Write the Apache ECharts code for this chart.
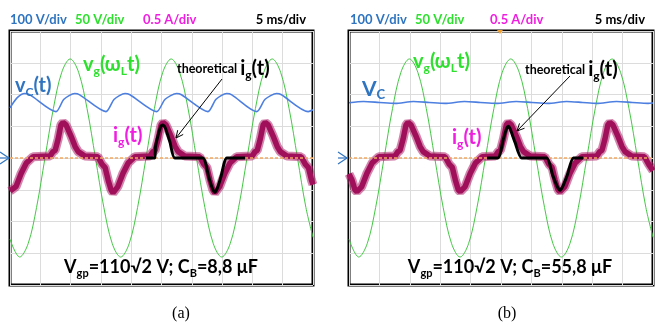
<!DOCTYPE html>
<html>
<head>
<meta charset="utf-8">
<script src="https://cdn.jsdelivr.net/npm/echarts@6/dist/echarts.min.js"></script>
<style>
  html, body { margin: 0; padding: 0; background: #fff; }
  #chart { width: 655px; height: 327px; }
</style>
</head>
<body>
<div id="chart"></div>
<script>
// time in ms (5 ms/div, 10 div), values in volts / amps

// grid voltage vg, same in both shots (50 V/div)
const vgPoints = [
  [0, -128], [1.6, -156], [2.99, -135], [4.38, -78], [5.77, 0], [7.16, 78], [8.54, 135],
  [9.93, 156], [11.32, 135], [12.71, 78], [14.1, 0], [15.49, -78], [16.88, -135],
  [18.27, -156], [19.66, -135], [21.05, -78], [22.44, 0], [23.83, 78], [25.21, 135],
  [26.6, 156], [27.99, 135], [29.38, 78], [30.77, 0], [32.16, -78], [33.55, -135],
  [34.94, -156], [36.33, -135], [37.72, -78], [39.11, 0], [40.5, 78], [41.88, 135],
  [43.27, 156], [44.66, 135], [46.05, 78], [47.44, 0], [48.83, -78], [50, -125]
];

// bus capacitor voltage vC (100 V/div)
const vcA = [
  [0, 158], [1.2, 190], [2.43, 203], [3.3, 199], [7.59, 146], [8.9, 185], [10.68, 203],
  [11.5, 199], [15.84, 146], [17.2, 185], [18.98, 203], [19.8, 199], [24.2, 146],
  [25.6, 185], [27.5, 203], [28.3, 199], [32.67, 146], [34, 185], [35.76, 203],
  [36.6, 199], [40.7, 146], [42.1, 185], [44, 203], [44.8, 199], [49.2, 146], [50, 152]
];
const vcB = [
  [0, 174], [2.4, 178], [5, 175], [7.6, 172], [10.6, 178], [13.2, 175], [15.8, 172],
  [19, 178], [21.6, 175], [24.2, 172], [27.5, 178], [30.1, 175], [32.7, 172],
  [35.8, 178], [38.4, 175], [40.7, 172], [44, 178], [46.6, 175], [49.2, 172], [50, 173]
];

// measured grid current ig (0.5 A/div)
const igA = [
  [0, -0.52], [0.2, -0.55], [1.0, -0.45], [1.85, -0.24], [2.7, -0.08], [3.8, 0.02],
  [6.6, 0.03], [7.1, 0.1], [7.45, 0.12], [7.95, 0.3], [8.4, 0.52], [8.75, 0.56], [9.25, 0.52],
  [10.05, 0.35], [10.75, 0.18], [11.25, 0.1], [12.35, 0.03],
  [14.5, 0.02], [15.2, -0.1], [15.7, -0.15], [16.2, -0.35], [16.67, -0.5], [17.0, -0.55],
  [17.8, -0.45], [18.65, -0.24], [19.5, -0.08], [20.6, 0.02],
  [23.1, 0.03], [23.6, 0.1], [23.95, 0.12], [24.45, 0.3], [24.92, 0.52], [25.25, 0.56],
  [25.75, 0.52], [26.55, 0.35], [27.25, 0.18], [27.75, 0.1], [28.85, 0.03],
  [31.3, 0.02], [32.0, -0.1], [32.5, -0.15], [33.0, -0.35], [33.47, -0.5], [33.8, -0.55],
  [34.6, -0.45], [35.45, -0.24], [36.3, -0.08], [37.4, 0.02],
  [39.95, 0.03], [40.45, 0.1], [40.8, 0.12], [41.3, 0.3], [41.77, 0.52], [42.1, 0.56],
  [42.6, 0.52], [43.4, 0.35], [44.1, 0.18], [44.6, 0.1], [45.7, 0.03],
  [48.05, 0.02], [48.75, -0.1], [49.25, -0.15], [49.75, -0.35], [50, -0.42]
];
const igB = [
  [0, -0.25], [0.5, -0.35], [0.97, -0.5], [1.3, -0.53], [2.1, -0.45], [2.95, -0.24],
  [3.8, -0.08], [4.9, 0.02],
  [7.55, 0.03], [8.05, 0.1], [8.4, 0.12], [8.9, 0.3], [9.37, 0.52], [9.7, 0.56], [10.2, 0.52],
  [11.0, 0.35], [11.7, 0.18], [12.2, 0.1], [13.3, 0.03],
  [15.8, 0.02], [16.5, -0.1], [17.0, -0.15], [17.5, -0.35], [17.97, -0.5], [18.3, -0.53],
  [19.1, -0.45], [19.95, -0.24], [20.8, -0.08], [21.9, 0.02],
  [24.05, 0.03], [24.55, 0.1], [24.9, 0.12], [25.4, 0.3], [25.87, 0.52], [26.2, 0.56],
  [26.7, 0.52], [27.5, 0.35], [28.2, 0.18], [28.7, 0.1], [29.8, 0.03],
  [32.2, 0.02], [32.9, -0.1], [33.4, -0.15], [33.9, -0.35], [34.37, -0.5], [34.7, -0.53],
  [35.5, -0.45], [36.35, -0.24], [37.2, -0.08], [38.3, 0.02],
  [40.75, 0.03], [41.25, 0.1], [41.6, 0.12], [42.1, 0.3], [42.57, 0.52], [42.9, 0.56],
  [43.4, 0.52], [44.2, 0.35], [44.9, 0.18], [45.4, 0.1], [46.5, 0.03],
  [48.6, 0.02], [49.3, -0.1], [50, -0.2]
];

// theoretical ig over one period
const igTheoryA = [
  [22.4, 0], [23.9, 0], [24.0, 0.17], [24.5, 0.38], [24.9, 0.5], [25.25, 0.52], [25.6, 0.48],
  [26.4, 0.25], [27.2, 0], [31.8, 0], [32.8, -0.3], [33.4, -0.48], [33.8, -0.54],
  [34.2, -0.48], [34.8, -0.3], [35.8, 0], [38.8, 0]
];
const igTheoryB = [
  [22.7, 0], [24.5, 0], [25.4, 0.3], [25.9, 0.46], [26.2, 0.5], [26.5, 0.46], [27.3, 0.25],
  [28.4, 0], [32.5, 0], [33.5, -0.27], [34.3, -0.46], [34.7, -0.51], [35.1, -0.46],
  [35.9, -0.27], [36.9, 0], [38.5, 0]
];

const zeroLine = [[0, 0], [50, 0]];
const scaleLabels = ['100 V/div', '50 V/div', '0.5 A/div', '5 ms/div'];
const capValues = ['8,8', '55,8'];
const panelNames = ['(a)', '(b)'];

const FONT = 'Lato, "Open Sans", sans-serif';
const BLUE_TXT = '#2f74c0';
const GREEN_TXT = '#2ee02e';
const MAG_TXT = '#f01ee0';

const chart = echarts.init(document.getElementById('chart'));

const grids = [
  { left: 10, top: 31, width: 303, height: 254 },
  { left: 349, top: 31, width: 304, height: 254 }
];

const xAxes = [], yAxes = [], series = [];
grids.forEach((g, i) => {
  g.show = true;
  g.borderColor = '#000';
  g.borderWidth = 3;
  g.containLabel = false;
  xAxes.push({
    gridIndex: i, type: 'value', min: 0, max: 50, interval: 5,
    axisLine: { show: false }, axisTick: { show: false }, axisLabel: { show: false },
    splitLine: { show: true, lineStyle: { color: '#dcdcdc', width: 1 } }
  });
  // vC axis (shows the horizontal grid), vg axis, ig axis
  yAxes.push({
    gridIndex: i, type: 'value', min: -400, max: 400, interval: 100,
    axisLine: { show: false }, axisTick: { show: false }, axisLabel: { show: false },
    splitLine: { show: true, lineStyle: { color: '#dcdcdc', width: 1 } }
  });
  yAxes.push({ gridIndex: i, type: 'value', min: -200, max: 200, show: false });
  yAxes.push({ gridIndex: i, type: 'value', min: -2, max: 2, show: false });
});

function line(data, xi, yi, color, width, extra) {
  return Object.assign({
    type: 'line', xAxisIndex: xi, yAxisIndex: yi, data: data,
    symbol: 'none', silent: true, animation: false,
    lineStyle: { color: color, width: width }
  }, extra || {});
}

const vcData = [vcA, vcB];
const igData = [igA, igB];
const theory = [igTheoryA, igTheoryB];
[0, 1].forEach(i => {
  const y0 = i * 3;
  series.push(line(vgPoints, i, y0 + 1, '#45c845', 1, { smooth: 0.35, z: 3 }));
  series.push(line(vcData[i], i, y0, '#4d7fe0', 1.6, { smooth: 0.25, z: 4 }));
  series.push(line(igData[i], i, y0 + 2, 'rgba(175,35,105,0.55)', 9, { z: 5 }));
  series.push(line(igData[i], i, y0 + 2, '#a0105a', 5.5, { z: 6 }));
  series.push(line(zeroLine, i, y0 + 2, '#f2a860', 1.5, { z: 7, lineStyle: { color: '#f2a860', width: 1.5, type: [3, 2] } }));
  series.push(line(theory[i], i, y0 + 2, '#000', 3, { smooth: 0.2, z: 8 }));
});

function richText(x, y, text, size, color, align) {
  const sub = Math.round(size * 0.62);
  return {
    type: 'text', x: x, y: y, z: 100,
    style: {
      text: text, fill: color, align: align || 'left', verticalAlign: 'middle',
      font: 'bold ' + size + 'px ' + FONT,
      rich: {
        m: { fontSize: size, fontWeight: 'bold', fontFamily: FONT, fill: color, lineHeight: 24, verticalAlign: 'middle' },
        s: { fontSize: sub, fontWeight: 'bold', fontFamily: FONT, fill: color, lineHeight: 24, verticalAlign: 'bottom' },
        t: { fontSize: 12.5, fontWeight: 'bold', fontFamily: FONT, fill: '#000', lineHeight: 24, verticalAlign: 'middle' }
      }
    }
  };
}
function plain(x, y, text, size, color, align, font) {
  return {
    type: 'text', x: x, y: y, z: 100,
    style: { text: text, fill: color, align: align || 'left', verticalAlign: 'middle', font: font || ('bold ' + size + 'px ' + FONT) }
  };
}

const headerX = [[10, 75, 143, 306], [350, 415, 490, 645]];
const headerColors = [BLUE_TXT, GREEN_TXT, MAG_TXT, '#000'];
const graphics = [];
headerX.forEach(xs => {
  scaleLabels.forEach((t, k) => {
    graphics.push(plain(xs[k], 20, t, 13, headerColors[k], k === 3 ? 'right' : 'left'));
  });
});

const caption = c => '{m|V}{s|gp}{m|=110√2 V; C}{s|B}{m|=' + c + ' μF}';

// panel a labels
graphics.push(richText(83, 65, '{m|v}{s|g}{m|(ω}{s|L}{m|t)}', 20, GREEN_TXT));
graphics.push(richText(15, 86, '{m|v}{s|C}{m|(t)}', 20, BLUE_TXT));
graphics.push(richText(177, 69, '{t|theoretical }{m|i}{s|g}{m|(t)}', 20, '#000'));
graphics.push(richText(113, 136, '{m|i}{s|g}{m|(t)}', 20, MAG_TXT));
graphics.push(richText(161, 267, caption(capValues[0]), 18, '#000', 'center'));
// panel b labels
graphics.push(richText(413, 62, '{m|v}{s|g}{m|(ω}{s|L}{m|t)}', 20, GREEN_TXT));
graphics.push(richText(362, 89, '{m|V}{s|C}', 21, BLUE_TXT));
graphics.push(richText(525, 70, '{t|theoretical }{m|i}{s|g}{m|(t)}', 20, '#000'));
graphics.push(richText(452, 138, '{m|i}{s|g}{m|(t)}', 20, MAG_TXT));
graphics.push(richText(510, 267, caption(capValues[1]), 18, '#000', 'center'));

graphics.push(plain(181, 314, panelNames[0], 16, '#000', 'center', '16px "Liberation Serif", serif'));
graphics.push(plain(507, 314, panelNames[1], 16, '#000', 'center', '16px "Liberation Serif", serif'));

// arrows to the theoretical curve
function arrow(x1, y1, x2, y2) {
  const a = Math.atan2(y2 - y1, x2 - x1);
  const L = 8, w = 0.45;
  return [
    { type: 'line', z: 90, shape: { x1: x1, y1: y1, x2: x2, y2: y2 }, style: { stroke: '#000', lineWidth: 1 } },
    { type: 'polyline', z: 90, shape: { points: [
      [x2 - L * Math.cos(a - w), y2 - L * Math.sin(a - w)], [x2, y2],
      [x2 - L * Math.cos(a + w), y2 - L * Math.sin(a + w)]] }, style: { stroke: '#000', lineWidth: 1, fill: null } }
  ];
}
graphics.push(...arrow(222, 79, 176, 138));
graphics.push(...arrow(570, 76, 517, 131));

// channel ground markers and trigger marker
[[0, 158], [338, 158]].forEach(p => {
  graphics.push({ type: 'polyline', z: 95, shape: { points: [[p[0], p[1] - 6], [p[0] + 9, p[1]], [p[0], p[1] + 6]] }, style: { stroke: '#2f74c0', lineWidth: 1.2, fill: null } });
  graphics.push({ type: 'line', z: 95, shape: { x1: p[0], y1: p[1], x2: p[0] + 9, y2: p[1] }, style: { stroke: '#2f74c0', lineWidth: 1.2 } });
});
graphics.push({ type: 'polygon', z: 95, shape: { points: [[497, 30], [503, 30], [500, 34]] }, style: { fill: '#f0a030' } });

chart.setOption({
  animation: false,
  backgroundColor: '#fff',
  grid: grids,
  xAxis: xAxes,
  yAxis: yAxes,
  series: series,
  graphic: graphics
});
</script>
</body>
</html>
